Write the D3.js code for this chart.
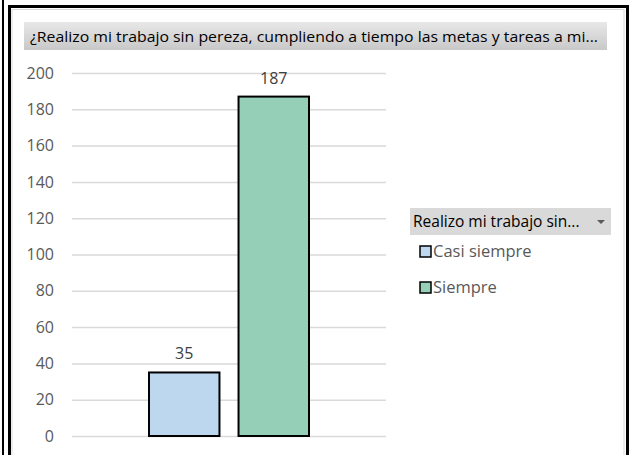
<!DOCTYPE html>
<html>
<head>
<meta charset="utf-8">
<script src="https://cdn.jsdelivr.net/npm/d3@7"></script>
<style>
  body { margin: 0; background: #fff; }
  svg { display: block; font-family: "Open Sans", "Noto Sans", sans-serif; }
</style>
</head>
<body>
<div id="chart"></div>
<script>
var categories = ["Casi siempre", "Siempre"];
var values = [35, 187];
var colors = ["#bdd7ee", "#95cfb7"];
var yTicks = [0, 20, 40, 60, 80, 100, 120, 140, 160, 180, 200];
var titleText = "¿Realizo mi trabajo sin pereza, cumpliendo a tiempo las metas y tareas a mi...";
var legendTitle = "Realizo mi trabajo sin...";

var W = 629, H = 455;
var margin = { top: 73, left: 72 },
  plotW = 314,
  plotH = 436 - 73;

var svg = d3.select("#chart").append("svg")
  .attr("width", W)
  .attr("height", H);

// frame lines
svg.append("rect").attr("x", 2).attr("y", 0).attr("width", 2).attr("height", H).attr("fill", "#000");
svg.append("rect").attr("x", 8).attr("y", 5).attr("width", 3).attr("height", H - 5).attr("fill", "#000");
svg.append("rect").attr("x", 8).attr("y", 5).attr("width", W - 8).attr("height", 3).attr("fill", "#000");
svg.append("rect").attr("x", 626).attr("y", 5).attr("width", 3).attr("height", H - 5).attr("fill", "#000");
svg.append("rect").attr("x", 12).attr("y", 9.5).attr("width", 612).attr("height", H).attr("fill", "none").attr("stroke", "#d9d9d9");

// title bar
var grad = svg.append("defs").append("linearGradient").attr("id", "tg")
  .attr("x1", 0).attr("y1", 0).attr("x2", 0).attr("y2", 1);
grad.append("stop").attr("offset", "0%").attr("stop-color", "#e8e8e8");
grad.append("stop").attr("offset", "100%").attr("stop-color", "#c8c8c8");

svg.append("rect").attr("x", 24).attr("y", 22).attr("width", 583).attr("height", 28).attr("fill", "url(#tg)");
svg.append("text").attr("x", 30).attr("y", 42)
  .attr("font-size", 15).attr("fill", "#000")
  .attr("textLength", 568).attr("lengthAdjust", "spacingAndGlyphs")
  .text(titleText);

var g = svg.append("g").attr("transform", "translate(" + margin.left + "," + margin.top + ")");

var x = d3.scaleBand().domain(categories).range([77, 237]).paddingInner(0.213).paddingOuter(0);
var y = d3.scaleLinear().domain([0, 200]).range([plotH, 0]);

g.append("g")
  .call(d3.axisLeft(y).tickValues(yTicks).tickSize(-plotW).tickPadding(18))
  .call(function (a) { a.select(".domain").remove(); })
  .call(function (a) {
    a.selectAll(".tick line").attr("stroke", "#d9d9d9").attr("stroke-width", 1.5);
    a.selectAll(".tick text").attr("fill", "#595959").attr("font-size", 16).attr("font-family", "Open Sans, sans-serif");
  });

g.selectAll(".bar")
  .data(values)
  .enter().append("rect")
  .attr("class", "bar")
  .attr("x", function (d, i) { return x(categories[i]); })
  .attr("y", function (d) { return y(d); })
  .attr("width", x.bandwidth())
  .attr("height", function (d) { return plotH - y(d); })
  .attr("fill", function (d, i) { return colors[i]; })
  .attr("stroke", "#000")
  .attr("stroke-width", 2);

g.selectAll(".lbl")
  .data(values)
  .enter().append("text")
  .attr("class", "lbl")
  .attr("x", function (d, i) { return x(categories[i]) + x.bandwidth() / 2; })
  .attr("y", function (d) { return y(d) - 13; })
  .attr("text-anchor", "middle")
  .attr("fill", "#404040")
  .attr("font-size", 16)
  .text(function (d) { return d; });

// legend
var lg = svg.append("g").attr("transform", "translate(410,208)");
lg.append("rect").attr("width", 201).attr("height", 27).attr("fill", "#d9d9d9");
lg.append("text").attr("x", 3).attr("y", 19).attr("font-size", 15.5).attr("fill", "#000").text(legendTitle);
lg.append("path").attr("d", "M187,12 L195,12 L191,16 Z").attr("fill", "#595959");

var item = lg.selectAll(".item")
  .data(categories)
  .enter().append("g")
  .attr("class", "item")
  .attr("transform", function (d, i) { return "translate(0," + (44 + i * 36) + ")"; });
item.append("rect")
  .attr("x", 10).attr("y", -6).attr("width", 11).attr("height", 11)
  .attr("fill", function (d, i) { return colors[i]; })
  .attr("stroke", "#000").attr("stroke-width", 1.5);
item.append("text")
  .attr("x", 23).attr("y", 5)
  .attr("font-size", 16.5).attr("fill", "#595959")
  .text(function (d) { return d; });
</script>
</body>
</html>
